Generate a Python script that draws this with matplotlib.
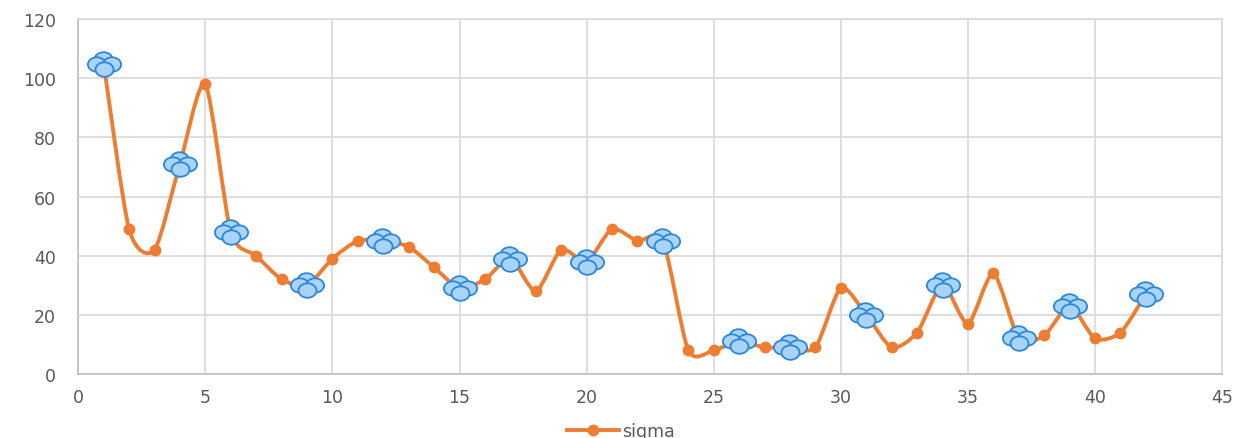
import numpy as np
import matplotlib.pyplot as plt
from matplotlib.path import Path
from matplotlib.patches import PathPatch
from matplotlib.transforms import Affine2D
from matplotlib.lines import Line2D

plt.rcParams['font.family'] = ['DejaVu Sans']

x = list(range(1, 43))
sigma = [105, 49, 42, 71, 98, 48, 40, 32, 30, 39,
         45, 45, 43, 36, 29, 32, 39, 28, 42, 38,
         49, 45, 45, 8, 8, 11, 9, 9, 9, 29,
         20, 9, 14, 30, 17, 34, 12, 13, 23, 12,
         14, 27]
flagged = [1, 4, 6, 9, 12, 15, 17, 20, 23, 26, 28, 31, 34, 37, 39, 42]

orange = "#ED7D31"
blue_edge = "#2B87DA"
blue_fill = "#A9D3F7"

# smoothed line as cubic bezier segments through the data points
pts = np.column_stack([x, sigma]).astype(float)
verts = [pts[0]]
codes = [Path.MOVETO]
n = len(pts)
for i in range(n - 1):
    p0 = pts[max(i - 1, 0)]
    p1 = pts[i]
    p2 = pts[i + 1]
    p3 = pts[min(i + 2, n - 1)]
    c1 = p1 + (p2 - p0) / 8.0
    c2 = p2 - (p3 - p1) / 8.0
    verts += [c1, c2, p2]
    codes += [Path.CURVE4] * 3

# marker: four overlapping circles, each drawn as its own layer
# (invisible corner moveto's keep the same marker scaling for all four)
circ = Path.unit_circle()
def blob(dx, dy):
    c = circ.transformed(Affine2D().scale(0.5, 0.4).translate(dx, dy))
    v = np.vstack([[[-1, -1]], [[1, 1]], c.vertices])
    cd = np.concatenate([[Path.MOVETO, Path.MOVETO], c.codes])
    return Path(v, cd)

fig = plt.figure(figsize=(12.42, 4.39), dpi=100)
ax = fig.add_axes([0.063, 0.146, 0.921, 0.808])

ax.add_patch(PathPatch(Path(verts, codes), facecolor="none", edgecolor=orange,
                       lw=2.8, zorder=3, capstyle="round", joinstyle="round"))
ax.plot(x, sigma, ls="none", marker="o", ms=7.5, color=orange, zorder=4)
fy = [sigma[v - 1] for v in flagged]
for k, (dx, dy) in enumerate([(-0.05, 0.28), (-0.42, 0.0), (0.42, 0.0), (0.0, -0.28)]):
    ax.plot(flagged, fy, ls="none", marker=blob(dx, dy), ms=26, mfc=blue_fill,
            mec=blue_edge, mew=1.3, zorder=5 + k * 0.1)

ax.set_xlim(0, 45)
ax.set_ylim(0, 120)
ax.set_xticks(range(0, 46, 5))
ax.set_yticks(range(0, 121, 20))
ax.grid(True, color="#D9D9D9", lw=1.2)
ax.set_axisbelow(True)
for s in ax.spines.values():
    s.set_color("#D9D9D9")
    s.set_linewidth(1.2)
ax.spines["left"].set_color("#BFBFBF")
ax.spines["bottom"].set_color("#BFBFBF")
ax.tick_params(length=0, labelsize=12.5, labelcolor="#595959")
ax.tick_params(axis="y", pad=16)
ax.tick_params(axis="x", pad=10)

handle = Line2D([], [], color=orange, lw=2.8, marker="o", ms=7.5)
fig.legend([handle], ["sigma"], loc="lower center", bbox_to_anchor=(0.5, -0.04),
           frameon=False, fontsize=12.5, labelcolor="#595959", handlelength=3,
           handletextpad=0.2)

fig.savefig("out.png", dpi=100)
